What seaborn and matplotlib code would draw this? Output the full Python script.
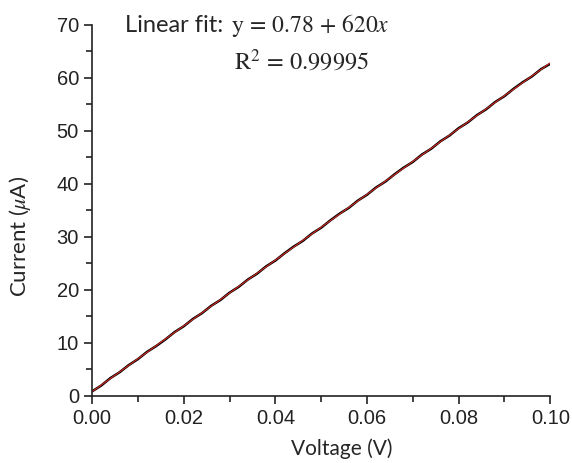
import numpy as np
import pandas as pd
import matplotlib
matplotlib.use("Agg")
import matplotlib.pyplot as plt
import seaborn as sns
from matplotlib.ticker import MultipleLocator, FormatStrFormatter

voltage = [0.000, 0.002, 0.004, 0.006, 0.008, 0.010, 0.012, 0.014, 0.016, 0.018,
           0.020, 0.022, 0.024, 0.026, 0.028, 0.030, 0.032, 0.034, 0.036, 0.038,
           0.040, 0.042, 0.044, 0.046, 0.048, 0.050, 0.052, 0.054, 0.056, 0.058,
           0.060, 0.062, 0.064, 0.066, 0.068, 0.070, 0.072, 0.074, 0.076, 0.078,
           0.080, 0.082, 0.084, 0.086, 0.088, 0.090, 0.092, 0.094, 0.096, 0.098,
           0.100]
current = [0.85, 1.95, 3.35, 4.45, 5.80, 6.92, 8.30, 9.40, 10.64, 12.02,
           13.12, 14.50, 15.60, 16.98, 18.07, 19.45, 20.55, 21.93, 23.03, 24.42,
           25.51, 26.88, 28.14, 29.22, 30.61, 31.70, 33.08, 34.34, 35.42, 36.81,
           37.91, 39.30, 40.39, 41.76, 43.02, 44.10, 45.50, 46.58, 47.97, 49.07,
           50.46, 51.55, 52.93, 54.02, 55.41, 56.50, 57.89, 59.13, 60.22, 61.60,
           62.60]

fit_text = "Linear fit:"
fit_eq = r"$\mathrm{y}\,=\,0.78\,+\,620x$"
r2_text = r"$\mathrm{R}^2\,=\,0.99995$"

df = pd.DataFrame({"Voltage": voltage, "Current": current})

sns.set_style("ticks")
plt.rcParams["font.family"] = ["Liberation Sans", "DejaVu Sans"]
plt.rcParams["mathtext.fontset"] = "stix"

fig = plt.figure(figsize=(5.72, 4.63), dpi=100)
ax = fig.add_axes([0.161, 0.145, 0.801, 0.802])

# noisy data trace
sns.lineplot(data=df, x="Voltage", y="Current", ax=ax, color="black",
             linewidth=1.8, estimator=None)
# linear fit in red
sns.regplot(data=df, x="Voltage", y="Current", ax=ax, scatter=False, ci=None,
            color="#d42a22", line_kws={"linewidth": 0.8})

ax.set_xlim(0, 0.1)
ax.set_ylim(0, 70)
ax.xaxis.set_major_locator(MultipleLocator(0.02))
ax.xaxis.set_minor_locator(MultipleLocator(0.01))
ax.yaxis.set_major_locator(MultipleLocator(10))
ax.yaxis.set_minor_locator(MultipleLocator(5))
ax.xaxis.set_major_formatter(FormatStrFormatter("%.2f"))
ax.tick_params(which="major", length=6, width=1.2, labelsize=14.5, colors="#222222")
ax.tick_params(which="minor", length=4, width=1.2, colors="#222222")
for s in ["left", "bottom"]:
    ax.spines[s].set_linewidth(1.2)
    ax.spines[s].set_color("#222222")
sns.despine(ax=ax)

ax.set_xlabel("Voltage (V)", fontsize=15, family="Lato")
ax.set_ylabel(r"Current ($\mu$A)", fontsize=16, family="Lato")
ax.xaxis.set_label_coords(0.544, -0.115)
ax.yaxis.set_label_coords(-0.13, 0.43)

fig.text(0.218, 0.931, fit_text, fontsize=17, family="Lato", va="baseline")
fig.text(0.403, 0.931, fit_eq, fontsize=17, va="baseline", ha="left")
fig.text(0.645, 0.849, r2_text, fontsize=17.5, va="baseline", ha="right")

fig.savefig("out.png", dpi=100)
